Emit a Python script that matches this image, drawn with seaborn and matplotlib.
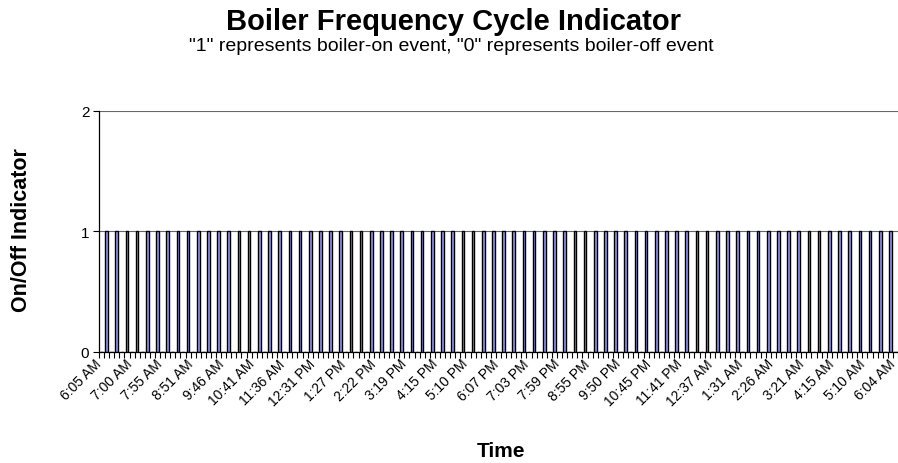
import matplotlib
matplotlib.use("Agg")
import matplotlib.pyplot as plt
import matplotlib.transforms as mtransforms
import seaborn as sns
import pandas as pd
import numpy as np

# ---- data ----
title = "Boiler Frequency Cycle Indicator"
subtitle = '"1" represents boiler-on event, "0" represents boiler-off event'
x_label = "Time"
y_label = "On/Off Indicator"

# on/off indicator for each recorded event (157 events)
onoff = [0, 1, 0, 1, 0, 1, 0, 1, 0, 1, 0, 1, 0, 1, 0, 1, 0, 1, 0, 1,
         0, 1, 0, 1, 0, 1, 0, 1, 0, 1, 0, 1, 0, 1, 0, 1, 0, 1, 0, 1,
         0, 1, 0, 1, 0, 1, 0, 1, 0, 1, 0, 1, 0, 1, 0, 1, 0, 1, 0, 1,
         0, 1, 0, 1, 0, 1, 0, 1, 0, 1, 0, 1, 0, 1, 0, 1, 0, 1, 0, 1,
         0, 1, 0, 1, 0, 1, 0, 1, 0, 1, 0, 1, 0, 1, 0, 1, 0, 1, 0, 1,
         0, 1, 0, 1, 0, 1, 0, 1, 0, 1, 0, 1, 0, 1, 0, 1, 0, 1, 0, 1,
         0, 1, 0, 1, 0, 1, 0, 1, 0, 1, 0, 1, 0, 1, 0, 1, 0, 1, 0, 1,
         0, 1, 0, 1, 0, 1, 0, 1, 0, 1, 0, 1, 0, 1, 0, 1, 0]

# time labels shown on the axis (every 6th event)
time_labels = ["6:05 AM", "7:00 AM", "7:55 AM", "8:51 AM", "9:46 AM", "10:41 AM",
               "11:36 AM", "12:31 PM", "1:27 PM", "2:22 PM", "3:19 PM", "4:15 PM",
               "5:10 PM", "6:07 PM", "7:03 PM", "7:59 PM", "8:55 PM", "9:50 PM",
               "10:45 PM", "11:41 PM", "12:37 AM", "1:31 AM", "2:26 AM", "3:21 AM",
               "4:15 AM", "5:10 AM", "6:04 AM"]
label_step = 6
y_ticks = [0, 1, 2]

events = list(range(len(onoff)))
df = pd.DataFrame({"event": events, "onoff": onoff})

# ---- styling ----
sns.set_theme(style="ticks")
plt.rcParams["font.family"] = ["Liberation Sans", "DejaVu Sans"]
plt.rcParams["text.color"] = "black"
plt.rcParams["xtick.color"] = "black"
plt.rcParams["ytick.color"] = "black"
plt.rcParams["xtick.labelcolor"] = "black"
plt.rcParams["ytick.labelcolor"] = "black"

W, H = 898, 464
fig = plt.figure(figsize=(W / 100, H / 100), dpi=100)
left, right, top, bottom = 99, 898, 111.5, 352.5
ax = fig.add_axes([left / W, (H - bottom) / H, (right - left) / W, (bottom - top) / H])

sns.barplot(data=df, x="event", y="onoff", order=events, color="#9999FF",
            saturation=1, edgecolor="black", linewidth=1.0, width=0.52,
            errorbar=None, ax=ax)

ax.set_xlim(-0.5, len(onoff) - 0.5)
ax.set_ylim(0, 2)
ax.set_yticks(y_ticks)
ax.set_yticklabels([str(v) for v in y_ticks], fontsize=11)
ax.yaxis.grid(True, color="#666666", linewidth=0.8)
ax.set_axisbelow(True)

# x ticks: marks at category boundaries, labels every 6th category
ax.set_xticks(np.arange(0, len(onoff), label_step))
ax.set_xticklabels(time_labels, rotation=45, ha="right", va="center",
                   rotation_mode="anchor", fontsize=10)
ax.tick_params(axis="x", which="major", length=0, pad=7)
shift = mtransforms.ScaledTranslation(-2 / 100, 0, fig.dpi_scale_trans)
for lbl in ax.get_xticklabels():
    lbl.set_transform(lbl.get_transform() + shift)
ax.set_xticks(np.arange(-0.5, len(onoff), 1), minor=True)
ax.tick_params(axis="x", which="minor", length=4, width=0.8, color="black",
               direction="out")
ax.tick_params(axis="y", length=4, width=0.8, color="black", direction="out", pad=3)

for s in ["top", "right"]:
    ax.spines[s].set_visible(False)
for s in ["left", "bottom"]:
    ax.spines[s].set_color("black")
    ax.spines[s].set_linewidth(0.9)

ax.set_xlabel("")
ax.set_ylabel("")

fig.text(453 / W, 1 - 22 / H, title, ha="center", va="center",
         fontsize=21, fontweight="bold", color="black")
fig.text(451 / W, 1 - 47 / H, subtitle, ha="center", va="center", fontsize=14,
         color="black")
fig.text(22 / W, 1 - 230 / H, y_label, ha="center", va="center", rotation=90,
         fontsize=15.5, fontweight="bold", color="black")
fig.text(501 / W, 1 - 452 / H, x_label, ha="center", va="center",
         fontsize=15, fontweight="bold", color="black")

fig.savefig("out.png", dpi=100, facecolor="white")
